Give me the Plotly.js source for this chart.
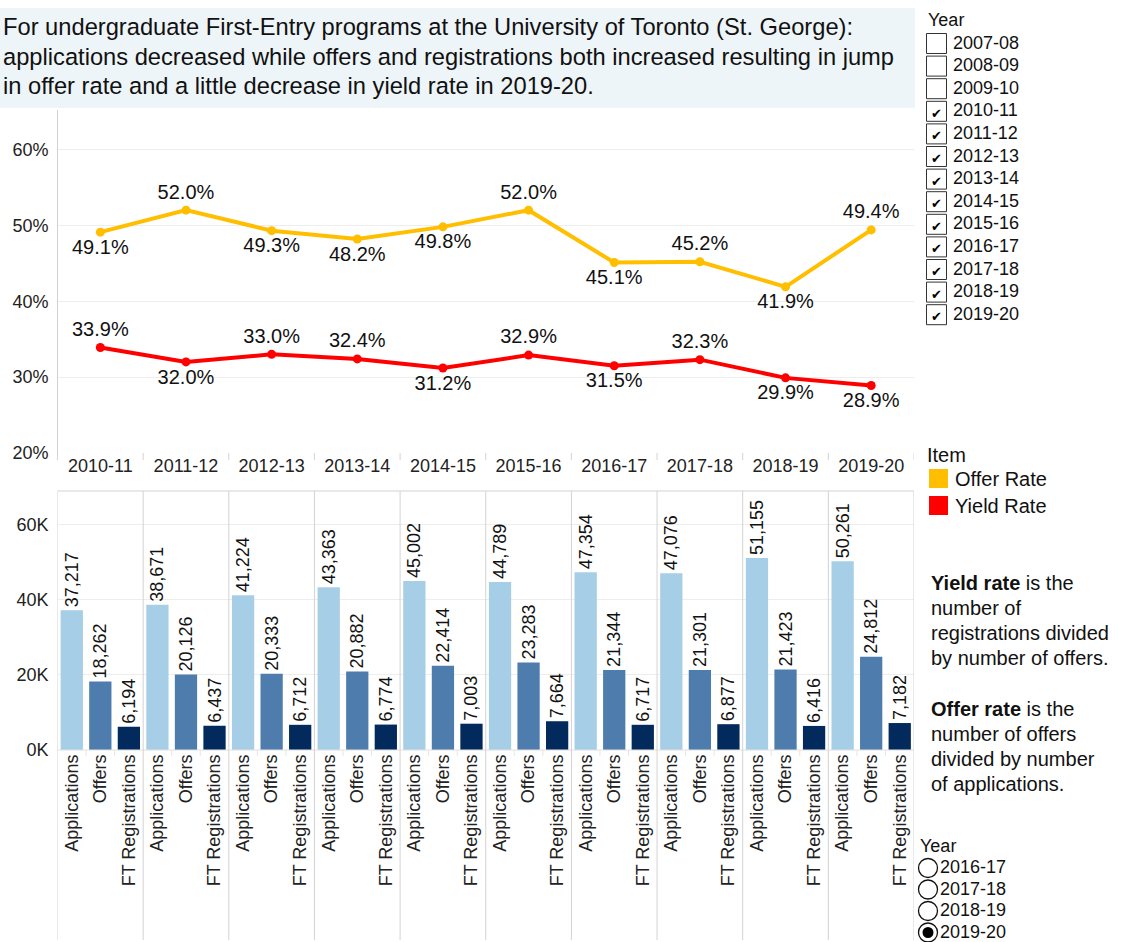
<!DOCTYPE html>
<html>
<head>
<meta charset="utf-8">
<script src="https://cdn.plot.ly/plotly-3.0.1.min.js"></script>
<style>
html,body{margin:0;padding:0;background:#fff;}
#chart{width:1123px;height:942px;}
</style>
</head>
<body>
<div id="chart"></div>
<script>
// ---------------- DATA ----------------
const years = ['2010-11','2011-12','2012-13','2013-14','2014-15','2015-16','2016-17','2017-18','2018-19','2019-20'];
const offerRate = [49.1, 52.0, 49.3, 48.2, 49.8, 52.0, 45.1, 45.2, 41.9, 49.4];
const yieldRate = [33.9, 32.0, 33.0, 32.4, 31.2, 32.9, 31.5, 32.3, 29.9, 28.9];
const items = ['Applications','Offers','FT Registrations'];
const applications = [37217, 38671, 41224, 43363, 45002, 44789, 47354, 47076, 51155, 50261];
const offers = [18262, 20126, 20333, 20882, 22414, 23283, 21344, 21301, 21423, 24812];
const registrations = [6194, 6437, 6712, 6774, 7003, 7664, 6717, 6877, 6416, 7182];
const rateTicks = [20, 30, 40, 50, 60];
const rateTickText = ['20%','30%','40%','50%','60%'];
const countTicks = [0, 20000, 40000, 60000];
const countTickText = ['0K','20K','40K','60K'];
const filterYears = ['2007-08','2008-09','2009-10','2010-11','2011-12','2012-13','2013-14','2014-15','2015-16','2016-17','2017-18','2018-19','2019-20'];
const radioYears = ['2016-17','2017-18','2018-19','2019-20'];
const radioSelected = '2019-20';
const legendItems = ['Offer Rate','Yield Rate'];
const titleLines = [
  'For undergraduate First-Entry programs at the University of Toronto (St. George):',
  'applications decreased while offers and registrations both increased resulting in jump',
  'in offer rate and a little decrease in yield rate in 2019-20.'
];
const noteLines = [
  '<b>Yield rate</b> is the', 'number of', 'registrations divided', 'by number of offers.',
  '',
  '<b>Offer rate</b> is the', 'number of offers', 'divided by number', 'of applications.'
];

// ---------------- STYLE ----------------
const W = 1123, H = 942;
const FONT = 'Arial, "Liberation Sans", sans-serif';
const px = x => x / W;
const py = y => 1 - y / H;
const offerColor = '#FFBF00';
const yieldColor = '#FF0000';
const barColors = ['#A6CEE7', '#4E7DAD', '#022A5C'];
const offerPos = ['bottom center','top center','bottom center','bottom center','bottom center','top center','bottom center','top center','bottom center','top center'];
const yieldPos = ['top center','bottom center','top center','top center','bottom center','top center','bottom center','top center','bottom center','bottom center'];
const gridC = '#EDEDED';
const borderC = '#D3D3D3';

const X0 = 57.5, X1 = 914;

// ---------------- TRACES ----------------
const traces = [];
traces.push({
  type: 'scatter', mode: 'lines+markers+text', x: years, y: offerRate,
  xaxis: 'x', yaxis: 'y', name: 'Offer Rate',
  line: {color: offerColor, width: 4}, marker: {color: offerColor, size: 9},
  texttemplate: '%{y:.1f}%', textposition: offerPos,
  textfont: {family: FONT, size: 20, color: '#111'}, cliponaxis: false, hoverinfo: 'skip'
});
traces.push({
  type: 'scatter', mode: 'lines+markers+text', x: years, y: yieldRate,
  xaxis: 'x', yaxis: 'y', name: 'Yield Rate',
  line: {color: yieldColor, width: 4}, marker: {color: yieldColor, size: 9},
  texttemplate: '%{y:.1f}%', textposition: yieldPos,
  textfont: {family: FONT, size: 20, color: '#111'}, cliponaxis: false, hoverinfo: 'skip'
});

const keys = [];
years.forEach(y => items.forEach(it => keys.push(y + '|' + it)));
const series = [applications, offers, registrations];
items.forEach((it, j) => {
  traces.push({
    type: 'bar', name: it, xaxis: 'x2', yaxis: 'y2',
    x: years.map(y => y + '|' + it), y: series[j],
    marker: {color: barColors[j]}, width: 0.78,
    texttemplate: '%{y:,}', textposition: 'outside', textangle: -90,
    textfont: {family: FONT, size: 18, color: '#111'}, cliponaxis: false,
    constraintext: 'none', hoverinfo: 'skip'
  });
});

// ---------------- SHAPES & ANNOTATIONS ----------------
const shapes = [];
const ann = [];
const line = (x0, y0, x1, y1, color, xref, w) => shapes.push({
  type: 'line', xref: xref || 'paper', yref: 'paper',
  x0: xref ? x0 : px(x0), x1: xref ? x1 : px(x1), y0: py(y0), y1: py(y1),
  line: {color: color, width: w || 1}
});

// title box
shapes.push({type: 'rect', xref: 'paper', yref: 'paper', x0: px(0), x1: px(915), y0: py(108), y1: py(8),
  fillcolor: '#EEF5F9', line: {width: 0}, layer: 'below'});
titleLines.forEach((t, i) => ann.push({
  xref: 'paper', yref: 'paper', x: px(1), y: py(27 + i * 29.5), xanchor: 'left', yanchor: 'middle',
  text: t, showarrow: false, font: {family: FONT, size: 23.7, color: '#111'}
}));

// line chart frame
line(X0, 110, X0, 460, borderC);
for (let i = 0; i <= years.length; i++) line(i - 0.5, 453, i - 0.5, 460, borderC, 'x');

// bar chart frame
line(X0, 491, X1, 491, borderC);
line(X0, 750, X1, 750, '#E0E0E0');
for (let i = 0; i <= years.length; i++) line(i * 3 - 0.5, 491, i * 3 - 0.5, 940, borderC, 'x2');
for (let i = 0; i < years.length; i++) {
  line(i * 3 + 0.5, 750, i * 3 + 0.5, 756, '#E6E6E6', 'x2');
  line(i * 3 + 1.5, 750, i * 3 + 1.5, 756, '#E6E6E6', 'x2');
}

// Year checkbox filter
ann.push({xref: 'paper', yref: 'paper', x: px(926), y: py(20), xanchor: 'left', yanchor: 'middle',
  text: 'Year', showarrow: false, font: {family: FONT, size: 18, color: '#111'}});
filterYears.forEach((y, k) => {
  const cy = 43.5 + k * 22.6;
  shapes.push({type: 'rect', xref: 'paper', yref: 'paper', x0: px(926.5), x1: px(946.5), y0: py(cy - 10), y1: py(cy + 10),
    line: {color: '#333', width: 1}, fillcolor: 'rgba(0,0,0,0)'});
  if (years.includes(y)) {
    ann.push({xref: 'paper', yref: 'paper', x: px(936), y: py(cy + 2), xanchor: 'center', yanchor: 'middle',
      text: '✔', showarrow: false, font: {family: 'DejaVu Sans', size: 13, color: '#000'}});
  }
  ann.push({xref: 'paper', yref: 'paper', x: px(951), y: py(cy - 1), xanchor: 'left', yanchor: 'middle',
    text: y, showarrow: false, font: {family: FONT, size: 18, color: '#111'}});
});

// Item legend
ann.push({xref: 'paper', yref: 'paper', x: px(925), y: py(455), xanchor: 'left', yanchor: 'middle',
  text: 'Item', showarrow: false, font: {family: FONT, size: 20, color: '#111'}});
[offerColor, yieldColor].forEach((c, k) => {
  const cy = 478.5 + k * 27;
  shapes.push({type: 'rect', xref: 'paper', yref: 'paper', x0: px(929), x1: px(948), y0: py(cy - 9.5), y1: py(cy + 9.5),
    fillcolor: c, line: {width: 0}});
  ann.push({xref: 'paper', yref: 'paper', x: px(953), y: py(cy), xanchor: 'left', yanchor: 'middle',
    text: legendItems[k], showarrow: false, font: {family: FONT, size: 20, color: '#111'}});
});

// notes
noteLines.forEach((t, k) => {
  if (!t) return;
  ann.push({xref: 'paper', yref: 'paper', x: px(929), y: py(583 + k * 25.1), xanchor: 'left', yanchor: 'middle',
    text: t, showarrow: false, font: {family: FONT, size: 20, color: '#111'}});
});

// radio filter
ann.push({xref: 'paper', yref: 'paper', x: px(918), y: py(846), xanchor: 'left', yanchor: 'middle',
  text: 'Year', showarrow: false, font: {family: FONT, size: 18, color: '#111'}});
radioYears.forEach((y, k) => {
  const cy = 868 + k * 21.5;
  shapes.push({type: 'circle', xref: 'paper', yref: 'paper', x0: px(918.5), x1: px(937.5), y0: py(cy - 9.5), y1: py(cy + 9.5),
    line: {color: '#111', width: 1.3}, fillcolor: 'rgba(0,0,0,0)'});
  if (y === radioSelected) {
    shapes.push({type: 'circle', xref: 'paper', yref: 'paper', x0: px(922.5), x1: px(933.5), y0: py(cy - 5.5), y1: py(cy + 5.5),
      line: {width: 0}, fillcolor: '#000'});
  }
  ann.push({xref: 'paper', yref: 'paper', x: px(938), y: py(cy - 1), xanchor: 'left', yanchor: 'middle',
    text: y, showarrow: false, font: {family: FONT, size: 18, color: '#111'}});
});

// ---------------- LAYOUT ----------------
const tickFont = {family: FONT, size: 18, color: '#222'};
const layout = {
  width: W, height: H, margin: {l: 0, r: 0, t: 0, b: 0},
  paper_bgcolor: '#fff', plot_bgcolor: 'rgba(0,0,0,0)',
  showlegend: false, barmode: 'overlay',
  font: {family: FONT},
  xaxis: {domain: [px(X0), px(X1)], type: 'category', categoryarray: years, range: [-0.5, years.length - 0.5],
    showgrid: false, zeroline: false, showline: false, ticks: '', tickfont: tickFont, anchor: 'y', fixedrange: true},
  yaxis: {domain: [py(453), py(110)], range: [20, 65.2], tickvals: rateTicks, ticktext: rateTickText,
    showgrid: true, gridcolor: gridC, zeroline: false, showline: false, ticks: '', tickfont: tickFont,
    ticklabelstandoff: 8, anchor: 'x', fixedrange: true},
  xaxis2: {domain: [px(X0), px(X1)], type: 'category', categoryarray: keys, range: [-0.5, keys.length - 0.5],
    tickvals: keys, ticktext: keys.map(k => k.split('|')[1]), tickangle: -90,
    showgrid: false, zeroline: false, showline: false, ticks: '', tickfont: tickFont, anchor: 'y2', fixedrange: true},
  yaxis2: {domain: [py(750), py(491)], range: [0, 69000], tickvals: countTicks, ticktext: countTickText,
    showgrid: true, gridcolor: gridC, zeroline: false, showline: false, ticks: '', tickfont: tickFont,
    ticklabelstandoff: 8, anchor: 'x2', fixedrange: true},
  shapes: shapes, annotations: ann
};

Plotly.newPlot('chart', traces, layout, {staticPlot: true, displayModeBar: false});
</script>
</body>
</html>
